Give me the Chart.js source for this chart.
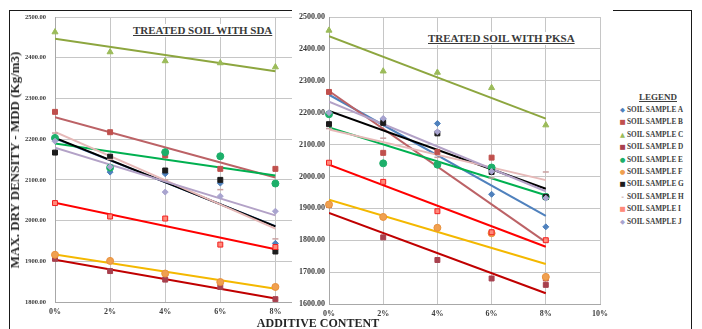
<!DOCTYPE html>
<html>
<head>
<meta charset="utf-8">
<script src="https://cdn.jsdelivr.net/npm/chart.js@4"></script>
<style>
  html, body { margin: 0; padding: 0; background: #fff; }
  body { width: 702px; height: 329px; position: relative; overflow: hidden; font-family: "Liberation Serif", "Times New Roman", serif; }
  #frame { position: absolute; left: 9px; top: 10px; width: 683px; height: 340px; border: 1.5px solid #1a1a1a; box-sizing: border-box; }
  canvas { position: absolute; top: 0; }
  #cSda { left: 10px; }
  #cPksa { left: 292px; background: #fff; }
  .ttl { position: absolute; font-weight: bold; text-decoration: underline; color: #3a3a3a; background: #fff; white-space: nowrap; line-height: 1; padding: 1px 2px; }
  #ttlSda { left: 131px; top: 24px; font-size: 11px; }
  #ttlPksa { left: 426px; top: 32px; font-size: 11px; }
  #yTitle { position: absolute; left: 15px; top: 160px; transform: translate(-50%, -50%) rotate(-90deg); font-weight: bold; font-size: 13px; color: #262626; white-space: nowrap; }
  #xTitle { position: absolute; left: 318px; top: 323px; transform: translate(-50%, -50%); font-weight: bold; font-size: 12px; color: #262626; white-space: nowrap; }
  #legend { position: absolute; left: 619px; top: 92px; width: 72px; color: #404040; font-weight: bold; font-size: 7.3px; }
  #legend .head { text-align: center; text-decoration: underline; font-size: 9px; margin-bottom: 2px; padding-left: 6px; }
  #legend .row { height: 12.4px; line-height: 12.4px; white-space: nowrap; }
  #legend .mk { display: inline-block; width: 7px; text-align: center; font-family: "DejaVu Sans", sans-serif; font-size: 6.5px; margin-right: 1px; }
</style>
</head>
<body>
<div id="frame"></div>
<canvas id="cSda" width="326" height="329"></canvas>
<canvas id="cPksa" width="321" height="329"></canvas>
<div class="ttl" id="ttlSda">TREATED SOIL WITH SDA</div>
<div class="ttl" id="ttlPksa">TREATED SOIL WITH PKSA</div>
<div id="yTitle">MAX. DRY DENSITY - MDD (Kg/m3)</div>
<div id="xTitle">ADDITIVE CONTENT</div>
<div id="legend"></div>
<script>
// Additive content (%) at which each sample was tested
const additivePct = [0, 2, 4, 6, 8];
const xTickPct = [0, 2, 4, 6, 8, 10];
const sampleLabels = ['SOIL SAMPLE A', 'SOIL SAMPLE B', 'SOIL SAMPLE C', 'SOIL SAMPLE D', 'SOIL SAMPLE E',
                      'SOIL SAMPLE F', 'SOIL SAMPLE G', 'SOIL SAMPLE H', 'SOIL SAMPLE I', 'SOIL SAMPLE J'];

// Maximum dry density (kg/m3), soil treated with SDA
const sdaA = [2200, 2119, 2115, 2092, 1944];
const sdaB = [2267, 2217, 2160, 2127, 2127];
const sdaC = [2463, 2414, 2392, 2387, 2377];
const sdaD = [1906, 1876, 1855, 1837, 1807];
const sdaE = [2203, 2130, 2168, 2158, 2091];
const sdaF = [1916, 1901, 1870, 1849, 1837];
const sdaG = [2167, 2157, 2123, 2100, 1924];
const sdaH = [2215, 2150, 2100, 2076, 1955];
const sdaI = [2043, 2010, 2005, 1941, 1935];
const sdaJ = [2195, 2132, 2070, 2060, 2023];

// Maximum dry density (kg/m3), soil treated with PKSA
const pksaA = [2199, 2180, 2166, 1944, 1842];
const pksaB = [2265, 2074, 2077, 2059, 1680];
const pksaC = [2458, 2330, 2326, 2278, 2161];
const pksaD = [1910, 1809, 1738, 1680, 1660];
const pksaE = [2195, 2041, 2037, 2028, 1936];
const pksaF = [1912, 1873, 1839, 1822, 1685];
const pksaG = [2164, 2168, 2135, 2014, 1936];
const pksaH = [2150, 2120, 2060, 1995, 2014];
const pksaI = [2043, 1983, 1891, 1825, 1800];
const pksaJ = [2200, 2182, 2140, 2016, 1932];

// Axis ranges
const sdaYRange = [1800, 2500];
const pksaYRange = [1600, 2500];

// Marker and trend line styles per sample
const looks = [
  { pt: 'rectRot',  r: 3,   fill: '#4F81BD', edge: '#4F81BD', line: '#4F81BD', glyph: '\u25C6' },
  { pt: 'rect',     r: 3.5, fill: '#C0504D', edge: '#C0504D', line: '#BC6266', glyph: '\u25A0' },
  { pt: 'triangle', r: 3.5, fill: '#9BBB59', edge: '#9BBB59', line: '#8DA63F', glyph: '\u25B2' },
  { pt: 'rect',     r: 3.5, fill: '#A8404E', edge: '#A8404E', line: '#C00000', glyph: '\u25A0' },
  { pt: 'circle',   r: 3.5, fill: '#1DAF6A', edge: '#1DAF6A', line: '#00B050', glyph: '\u25CF' },
  { pt: 'circle',   r: 3.5, fill: '#F0A050', edge: '#E8913C', line: '#F4B800', glyph: '\u25CF' },
  { pt: 'rect',     r: 3.5, fill: '#1c1c1c', edge: '#1c1c1c', line: '#000000', glyph: '\u25A0' },
  { pt: 'line',     r: 3,   fill: '#C9A0A0', edge: '#C9A0A0', line: '#E6B9B8', glyph: '-' },
  { pt: 'rect',     r: 3.5, fill: '#FF8A7A', edge: '#F22020', line: '#FF0000', glyph: '\u25A0' },
  { pt: 'rectRot',  r: 3,   fill: '#A9A4CF', edge: '#A9A4CF', line: '#B3A2C7', glyph: '\u25C6' }
];

// Least-squares straight line through a series
function trend(xs, ys) {
  const n = xs.length;
  const mx = xs.reduce((a, b) => a + b, 0) / n;
  const my = ys.reduce((a, b) => a + b, 0) / n;
  let sxy = 0, sxx = 0;
  for (let i = 0; i < n; i++) { sxy += (xs[i] - mx) * (ys[i] - my); sxx += (xs[i] - mx) ** 2; }
  const slope = sxy / sxx;
  const icpt = my - slope * mx;
  const x0 = xs[0], x1 = xs[n - 1];
  return [{ x: x0, y: icpt + slope * x0 }, { x: x1, y: icpt + slope * x1 }];
}

function buildDatasets(seriesList) {
  const marks = [], lines = [];
  seriesList.forEach((ys, i) => {
    const s = looks[i];
    marks.push({
      label: sampleLabels[i],
      data: additivePct.map((x, k) => ({ x, y: ys[k] })),
      pointStyle: s.pt, pointRadius: s.r, backgroundColor: s.fill, borderColor: s.edge,
      borderWidth: s.pt === 'line' ? 1.5 : 1, showLine: false, clip: false
    });
    lines.push({
      label: sampleLabels[i] + ' trend',
      data: trend(additivePct, ys),
      showLine: true, borderColor: s.line, borderWidth: 2, pointRadius: 0, fill: false
    });
  });
  // first dataset is painted last, so markers sit above lines
  return marks.reverse().concat(lines.reverse());
}

const tickFont = (size) => ({ family: 'Liberation Serif', weight: 'bold', size });

function makeChart(id, seriesList, yRange, opts) {
  return new Chart(document.getElementById(id), {
    type: 'scatter',
    data: { datasets: buildDatasets(seriesList) },
    options: {
      responsive: false, animation: false, events: [],
      layout: { padding: { top: 17, right: opts.padRight, bottom: 0, left: 0 } },
      plugins: { legend: { display: false }, tooltip: { enabled: false } },
      scales: {
        x: {
          type: 'linear', min: xTickPct[0], max: xTickPct[xTickPct.length - 1],
          afterBuildTicks: (sc) => { sc.ticks = xTickPct.map(v => ({ value: v })); },
          afterFit: (sc) => { sc.height = opts.xHeight; },
          grid: { color: '#C6C6C6', lineWidth: 1, drawTicks: false },
          border: { color: '#A8A8A8' },
          ticks: { padding: 5, color: '#404040', font: tickFont(8),
                   callback: (v) => (opts.hideLast && v === 10) ? '' : v + '%' }
        },
        y: {
          min: yRange[0], max: yRange[1],
          afterFit: (sc) => { sc.width = opts.yWidth; },
          grid: { color: '#C6C6C6', lineWidth: 1, drawTicks: false },
          border: { color: '#A8A8A8' },
          ticks: { stepSize: 100, padding: opts.yPad, color: '#3a3a3a', font: tickFont(opts.yFont),
                   callback: (v) => Number(v).toFixed(2) }
        }
      }
    }
  });
}

makeChart('cSda', [sdaA, sdaB, sdaC, sdaD, sdaE, sdaF, sdaG, sdaH, sdaI, sdaJ], sdaYRange,
          { padRight: 0, xHeight: 27, yWidth: 45, yPad: 9, yFont: 6.5, hideLast: true });
makeChart('cPksa', [pksaA, pksaB, pksaC, pksaD, pksaE, pksaF, pksaG, pksaH, pksaI, pksaJ], pksaYRange,
          { padRight: 10, xHeight: 25, yWidth: 37, yPad: 4, yFont: 8, hideLast: false });

// Legend
const lg = document.getElementById('legend');
const head = document.createElement('div');
head.className = 'head';
head.textContent = 'LEGEND';
lg.appendChild(head);
sampleLabels.forEach((name, i) => {
  const row = document.createElement('div');
  row.className = 'row';
  const mk = document.createElement('span');
  mk.className = 'mk';
  mk.textContent = looks[i].glyph;
  mk.style.color = looks[i].fill;
  row.appendChild(mk);
  row.appendChild(document.createTextNode(name));
  lg.appendChild(row);
});
</script>
</body>
</html>
